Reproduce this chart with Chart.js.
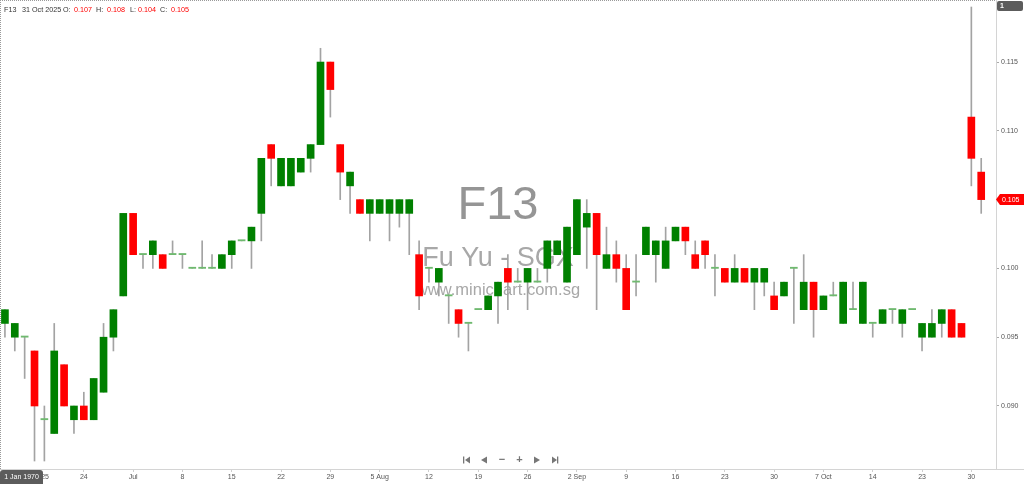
<!DOCTYPE html>
<html><head><meta charset="utf-8">
<script src="https://cdn.jsdelivr.net/npm/chart.js@4"></script>
<style>html,body{margin:0;padding:0;background:#fff;overflow:hidden}#c{display:block}</style>
</head><body>
<canvas id="c" width="1024" height="484" style="width:1024px;height:484px"></canvas>
<script>
const dates = ['2025-06-12','2025-06-13','2025-06-16','2025-06-17','2025-06-18','2025-06-19','2025-06-20','2025-06-23','2025-06-24','2025-06-25',
'2025-06-26','2025-06-27','2025-06-30','2025-07-01','2025-07-02','2025-07-03','2025-07-04','2025-07-07','2025-07-08','2025-07-09',
'2025-07-10','2025-07-11','2025-07-14','2025-07-15','2025-07-16','2025-07-17','2025-07-18','2025-07-21','2025-07-22','2025-07-23',
'2025-07-24','2025-07-25','2025-07-28','2025-07-29','2025-07-30','2025-07-31','2025-08-01','2025-08-04','2025-08-05','2025-08-06',
'2025-08-07','2025-08-08','2025-08-11','2025-08-12','2025-08-13','2025-08-14','2025-08-15','2025-08-18','2025-08-19','2025-08-20',
'2025-08-21','2025-08-22','2025-08-25','2025-08-26','2025-08-27','2025-08-28','2025-08-29','2025-09-01','2025-09-02','2025-09-03',
'2025-09-04','2025-09-05','2025-09-08','2025-09-09','2025-09-10','2025-09-11','2025-09-12','2025-09-15','2025-09-16','2025-09-17',
'2025-09-18','2025-09-19','2025-09-22','2025-09-23','2025-09-24','2025-09-25','2025-09-26','2025-09-29','2025-09-30','2025-10-01',
'2025-10-02','2025-10-03','2025-10-06','2025-10-07','2025-10-08','2025-10-09','2025-10-10','2025-10-13','2025-10-14','2025-10-15',
'2025-10-16','2025-10-17','2025-10-22','2025-10-23','2025-10-24','2025-10-27','2025-10-28','2025-10-29','2025-10-30','2025-10-31'];

const opens = [0.096,0.095,0.095,0.094,0.089,0.088,0.093,0.089,0.090,0.089,
0.091,0.095,0.098,0.104,0.101,0.101,0.101,0.101,0.101,0.100,
0.100,0.100,0.100,0.101,0.102,0.102,0.104,0.109,0.106,0.106,
0.107,0.108,0.109,0.115,0.109,0.106,0.105,0.104,0.104,0.104,
0.104,0.104,0.101,0.100,0.099,0.098,0.097,0.096,0.097,0.097,
0.098,0.100,0.099,0.099,0.099,0.100,0.101,0.099,0.101,0.103,
0.104,0.100,0.101,0.100,0.099,0.101,0.101,0.100,0.102,0.103,
0.101,0.102,0.100,0.100,0.099,0.100,0.099,0.099,0.098,0.098,
0.100,0.097,0.099,0.097,0.098,0.096,0.097,0.096,0.096,0.096,
0.097,0.096,0.097,0.095,0.095,0.096,0.097,0.096,0.111,0.107];

const highs = [0.097,0.096,0.095,0.094,0.090,0.096,0.093,0.090,0.091,0.092,
0.096,0.097,0.104,0.104,0.101,0.102,0.101,0.102,0.101,0.100,
0.102,0.101,0.101,0.102,0.102,0.103,0.108,0.109,0.108,0.108,
0.108,0.109,0.116,0.115,0.109,0.107,0.105,0.105,0.105,0.105,
0.105,0.105,0.102,0.100,0.100,0.098,0.097,0.096,0.097,0.098,
0.099,0.101,0.100,0.100,0.100,0.102,0.102,0.103,0.105,0.105,
0.104,0.103,0.102,0.101,0.101,0.103,0.102,0.103,0.103,0.103,
0.102,0.102,0.101,0.100,0.101,0.100,0.100,0.100,0.099,0.099,
0.100,0.101,0.099,0.098,0.099,0.099,0.099,0.099,0.096,0.097,
0.097,0.097,0.097,0.096,0.097,0.097,0.097,0.096,0.119,0.108];

const lows = [0.095,0.094,0.092,0.086,0.086,0.088,0.090,0.088,0.089,0.089,
0.091,0.094,0.098,0.101,0.100,0.100,0.100,0.101,0.100,0.100,
0.100,0.100,0.100,0.100,0.102,0.100,0.102,0.106,0.106,0.106,
0.107,0.107,0.109,0.111,0.105,0.104,0.104,0.102,0.104,0.102,
0.103,0.101,0.097,0.099,0.098,0.096,0.095,0.094,0.097,0.097,
0.096,0.097,0.099,0.097,0.099,0.099,0.101,0.099,0.101,0.100,
0.097,0.100,0.099,0.097,0.098,0.101,0.099,0.100,0.102,0.101,
0.100,0.100,0.098,0.099,0.099,0.099,0.097,0.098,0.097,0.098,
0.096,0.097,0.095,0.097,0.098,0.096,0.097,0.096,0.095,0.096,
0.096,0.095,0.097,0.094,0.095,0.095,0.095,0.095,0.106,0.104];

const closes = [0.097,0.096,0.095,0.090,0.089,0.094,0.090,0.090,0.089,0.092,
0.095,0.097,0.104,0.101,0.101,0.102,0.100,0.101,0.101,0.100,
0.100,0.100,0.101,0.102,0.102,0.103,0.108,0.108,0.108,0.108,
0.108,0.109,0.115,0.113,0.107,0.107,0.104,0.105,0.105,0.105,
0.105,0.105,0.098,0.100,0.100,0.098,0.096,0.096,0.097,0.098,
0.099,0.099,0.099,0.100,0.099,0.102,0.102,0.103,0.105,0.104,
0.101,0.101,0.100,0.097,0.099,0.103,0.102,0.102,0.103,0.102,
0.100,0.101,0.100,0.099,0.100,0.099,0.100,0.100,0.097,0.099,
0.100,0.099,0.097,0.098,0.098,0.099,0.097,0.099,0.096,0.097,
0.097,0.097,0.097,0.096,0.096,0.097,0.095,0.095,0.108,0.105];

const priceTicks = [0.090,0.095,0.100,0.105,0.110,0.115];
const tickDates = ['2025-06-17','2025-06-24','2025-07-01','2025-07-08','2025-07-15','2025-07-22','2025-07-29','2025-08-05','2025-08-12','2025-08-19',
'2025-08-26','2025-09-02','2025-09-09','2025-09-16','2025-09-23','2025-09-30','2025-10-07','2025-10-14','2025-10-23','2025-10-30'];
const tickTexts = ['Jun 2025','24','Jul','8','15','22','29','5 Aug','12','19','26','2 Sep','9','16','23','30','7 Oct','14','23','30'];
const symbol = 'F13';
const company = 'Fu Yu - SGX';
const site = 'www.minichart.com.sg';
const cursorDate = '1 Jan 1970';
const months = ['Jan','Feb','Mar','Apr','May','Jun','Jul','Aug','Sep','Oct','Nov','Dec'];

const UP = '#008000', DOWN = '#ff0000', DOJI = '#6fb96f', WICK = '#a3a3a3', TXT = '#555';
const FONT = '"Liberation Sans", Arial, sans-serif';
Chart.defaults.font.family = FONT;

const idx = dates.map((d, i) => i);
const bodies = idx.map(i => ({x: i, y: [Math.min(opens[i], closes[i]), Math.max(opens[i], closes[i])]}));
const wicks = idx.map(i => ({x: i, y: [lows[i], highs[i]]}));
const bodyColors = idx.map(i => closes[i] === opens[i] ? DOJI : (closes[i] > opens[i] ? UP : DOWN));

function fmtDate(s) {
  const p = s.split('-');
  return parseInt(p[2], 10) + ' ' + months[parseInt(p[1], 10) - 1] + ' ' + p[0];
}

const overlay = {
  id: 'overlay',
  beforeDatasetsDraw(chart) {
    const ctx = chart.ctx, a = chart.chartArea;
    const cx = (a.left + a.right) / 2;
    ctx.save();
    ctx.textAlign = 'center';
    ctx.textBaseline = 'alphabetic';
    ctx.fillStyle = '#959595';
    ctx.font = '47px "Liberation Sans", Arial, sans-serif';
    ctx.fillText(symbol, cx, 219);
    ctx.fillStyle = '#a8a8a8';
    ctx.font = '27px "Liberation Sans", Arial, sans-serif';
    ctx.fillText(company, cx, 266);
    ctx.font = '16.5px "Liberation Sans", Arial, sans-serif';
    ctx.fillText(site, cx, 295);
    ctx.restore();
  },
  afterDraw(chart) {
    const ctx = chart.ctx, a = chart.chartArea, ys = chart.scales.y;
    const last = dates.length - 1;
    ctx.save();
    ctx.strokeStyle = '#d4d4d4'; ctx.lineWidth = 1;
    ctx.beginPath();
    ctx.moveTo(0, Math.round(a.bottom) + 0.5); ctx.lineTo(1024, Math.round(a.bottom) + 0.5);
    ctx.moveTo(Math.round(a.right) + 0.5, 0); ctx.lineTo(Math.round(a.right) + 0.5, a.bottom);
    ctx.stroke();
    ctx.strokeStyle = '#9a9a9a'; ctx.setLineDash([1, 1]);
    ctx.beginPath();
    ctx.moveTo(0, 0.5); ctx.lineTo(a.right, 0.5);
    ctx.moveTo(0.5, 0); ctx.lineTo(0.5, a.bottom);
    ctx.stroke();
    ctx.setLineDash([]);

    const hv = [opens[last], highs[last], lows[last], closes[last]];
    const parts = [[symbol, '#333', 4], [fmtDate(dates[last]), '#333', 22],
      ['O:', '#333', 63], [hv[0].toFixed(3), DOWN, 74],
      ['H:', '#333', 96], [hv[1].toFixed(3), DOWN, 107],
      ['L:', '#333', 130], [hv[2].toFixed(3), DOWN, 138],
      ['C:', '#333', 160], [hv[3].toFixed(3), DOWN, 171]];
    ctx.font = '7.2px ' + FONT;
    ctx.textBaseline = 'middle'; ctx.textAlign = 'left';
    parts.forEach(p => { ctx.fillStyle = p[1]; ctx.fillText(p[0], p[2], 10.5); });

    ctx.fillStyle = '#5c5c5c';
    ctx.beginPath(); ctx.roundRect(997, 1, 26, 10, 2); ctx.fill();
    ctx.fillStyle = '#fff'; ctx.font = 'bold 7px ' + FONT;
    ctx.fillText('1', 1000, 6.5);

    const py = ys.getPixelForValue(closes[last]);
    ctx.fillStyle = DOWN;
    ctx.beginPath();
    ctx.moveTo(996, py); ctx.lineTo(1000, py - 5.5); ctx.lineTo(1024, py - 5.5);
    ctx.lineTo(1024, py + 5.5); ctx.lineTo(1000, py + 5.5); ctx.closePath(); ctx.fill();
    ctx.fillStyle = '#fff'; ctx.font = '7px ' + FONT;
    ctx.fillText(closes[last].toFixed(3), 1002, py + 0.5);

    ctx.fillStyle = '#5c5c5c';
    ctx.beginPath(); ctx.roundRect(0, 470, 43, 14, [3, 3, 0, 0]); ctx.fill();
    ctx.fillStyle = '#fff'; ctx.textAlign = 'center'; ctx.font = '7px ' + FONT;
    ctx.fillText(cursorDate, 21.5, 477);

    const ny = 460;
    ctx.fillStyle = '#777'; ctx.strokeStyle = '#777'; ctx.lineWidth = 1.2;
    ctx.fillRect(463, ny - 3.5, 1.3, 7);
    ctx.beginPath(); ctx.moveTo(465, ny); ctx.lineTo(470, ny - 3.5); ctx.lineTo(470, ny + 3.5); ctx.fill();
    ctx.beginPath(); ctx.moveTo(481, ny); ctx.lineTo(487, ny - 3.5); ctx.lineTo(487, ny + 3.5); ctx.fill();
    ctx.font = 'bold 11px ' + FONT; ctx.textBaseline = 'middle';
    ctx.fillText('\u2212', 502, ny);
    ctx.fillText('+', 519.5, ny - 0.5);
    ctx.beginPath(); ctx.moveTo(540, ny); ctx.lineTo(534, ny - 3.5); ctx.lineTo(534, ny + 3.5); ctx.fill();
    ctx.beginPath(); ctx.moveTo(557, ny); ctx.lineTo(552, ny - 3.5); ctx.lineTo(552, ny + 3.5); ctx.fill();
    ctx.fillRect(557, ny - 3.5, 1.3, 7);
    ctx.restore();
  }
};

new Chart(document.getElementById('c'), {
  type: 'bar',
  data: {
    datasets: [
      {label: 'body', data: bodies, backgroundColor: bodyColors, borderWidth: 0,
       barThickness: 7, minBarLength: 1.2, grouped: false},
      {label: 'wick', data: wicks, backgroundColor: WICK, borderWidth: 0,
       barThickness: 1, grouped: false}
    ]
  },
  options: {
    responsive: false,
    animation: false,
    devicePixelRatio: 1,
    layout: {padding: 0},
    plugins: {legend: {display: false}, tooltip: {enabled: false}},
    scales: {
      x: {
        type: 'linear', min: -0.5, max: 100.5, offset: false,
        afterBuildTicks: s => { s.ticks = tickDates.map(d => ({value: dates.indexOf(d)})); },
        afterFit: s => { s.height = 15; s.paddingLeft = 0; s.paddingRight = 0; },
        ticks: {autoSkip: false, maxRotation: 0, padding: 1, color: TXT, font: {size: 7},
          callback: v => tickTexts[tickDates.indexOf(dates[v])]},
        grid: {display: true, drawOnChartArea: false, drawTicks: true, tickLength: 3, color: '#cfcfcf', offset: false},
        border: {display: false}
      },
      y: {
        type: 'linear', position: 'right', min: 0.08542, max: 0.11951,
        afterBuildTicks: s => { s.ticks = priceTicks.map(v => ({value: v})); },
        afterFit: s => { s.width = 28; s.paddingTop = 0; s.paddingBottom = 0; },
        ticks: {padding: 2, color: TXT, font: {size: 7}, callback: v => v.toFixed(3)},
        grid: {display: true, drawOnChartArea: false, drawTicks: true, tickLength: 3, color: '#aaa'},
        border: {display: false}
      }
    }
  },
  plugins: [overlay]
});
</script>
</body></html>
